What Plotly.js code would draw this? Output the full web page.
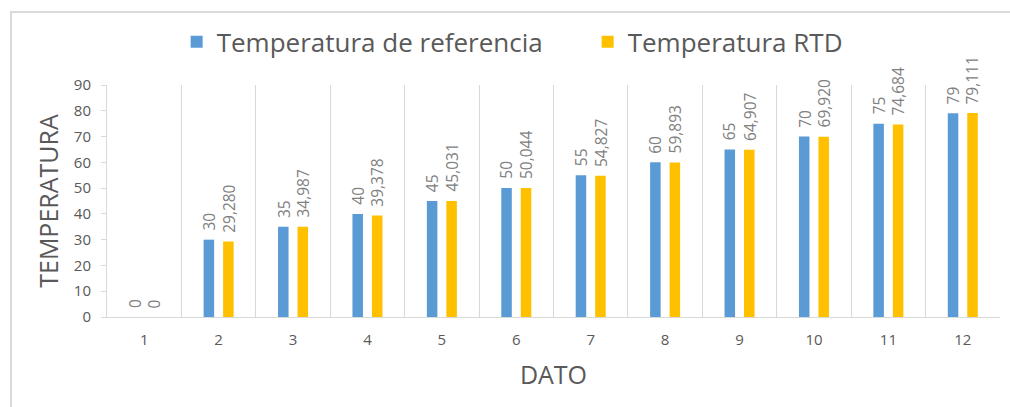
<!DOCTYPE html>
<html>
<head>
<meta charset="utf-8">
<script src="https://cdn.plot.ly/plotly-3.0.1.min.js"></script>
<style>
html,body{margin:0;padding:0;overflow:hidden;background:#fff;width:1010px;height:407px;}
#frame{position:absolute;left:10px;top:11px;width:1100px;height:500px;border:2px solid #d9d9d9;box-sizing:border-box;}
#chart{position:absolute;left:0;top:0;width:1010px;height:407px;}
</style>
</head>
<body>
<div id="frame"></div>
<div id="chart"></div>
<script>
const categories = ["1","2","3","4","5","6","7","8","9","10","11","12"];
const tempReferencia = [0,30,35,40,45,50,55,60,65,70,75,79];
const tempRTD = [0,29.280,34.987,39.378,45.031,50.044,54.827,59.893,64.907,69.920,74.684,79.111];
const labelsReferencia = ["0","30","35","40","45","50","55","60","65","70","75","79"];
const labelsRTD = ["0","29,280","34,987","39,378","45,031","50,044","54,827","59,893","64,907","69,920","74,684","79,111"];

const FONT = "Open Sans, sans-serif";
const labelFont = {family: FONT, size: 15.5, color: "#808080"};

const traces = [
  {
    type: "bar", name: "Temperatura de referencia",
    x: categories, y: tempReferencia,
    marker: {color: "#5B9BD5", line: {width: 0}},
    hoverinfo: "x+y"
  },
  {
    type: "bar", name: "Temperatura RTD",
    x: categories, y: tempRTD,
    marker: {color: "#FFC000", line: {width: 0}},
    hoverinfo: "x+y"
  }
];

// value labels above each bar (rotated), offset to each bar of the group
const BAR_OFFSET = 9.7;
const annotations = [];
[[tempReferencia, labelsReferencia, -BAR_OFFSET], [tempRTD, labelsRTD, BAR_OFFSET]].forEach(([vals, labs, dx]) => {
  vals.forEach((v, i) => {
    annotations.push({
      x: i, y: v, xref: "x", yref: "y",
      text: labs[i], showarrow: false, textangle: -90,
      xanchor: "center", yanchor: "bottom", xshift: dx, yshift: 7,
      font: labelFont
    });
  });
});

const layout = {
  width: 1010, height: 407,
  margin: {l: 107, r: 10, t: 85, b: 90, pad: 0},
  paper_bgcolor: "rgba(0,0,0,0)",
  plot_bgcolor: "rgba(0,0,0,0)",
  barmode: "group",
  bargap: 0.476,
  bargroupgap: 0.46,
  font: {family: FONT, color: "#595959"},
  showlegend: true,
  legend: {
    orientation: "h", x: 0.078, xanchor: "left", y: 1.186, yanchor: "middle",
    font: {family: FONT, size: 26, color: "#595959"},
    itemwidth: 30, entrywidth: 366, tracegroupgap: 0
  },
  annotations: annotations,
  xaxis: {
    type: "category", range: [-0.5, 11.5],
    tickson: "boundaries",
    showgrid: true, gridcolor: "#d9d9d9", gridwidth: 1,
    showline: true, linecolor: "#d9d9d9", linewidth: 1,
    ticks: "", ticklen: 0, ticklabelstandoff: 9,
    tickfont: {family: FONT, size: 15, color: "#595959"},
    title: {text: "DATO", font: {family: FONT, size: 25, color: "#595959"}, standoff: 18},
    automargin: false, fixedrange: true
  },
  yaxis: {
    range: [0, 90], dtick: 10, tick0: 0,
    showgrid: false, zeroline: false,
    showline: true, linecolor: "#d9d9d9", linewidth: 1,
    ticks: "outside", ticklen: 5, tickcolor: "#d9d9d9",
    ticklabelstandoff: 7,
    tickfont: {family: FONT, size: 15, color: "#595959"},
    title: {text: "TEMPERATURA", font: {family: FONT, size: 25, color: "#595959"}, standoff: 8},
    automargin: false, fixedrange: true
  }
};

Plotly.newPlot("chart", traces, layout, {displayModeBar: false, staticPlot: true});
</script>
</body>
</html>
